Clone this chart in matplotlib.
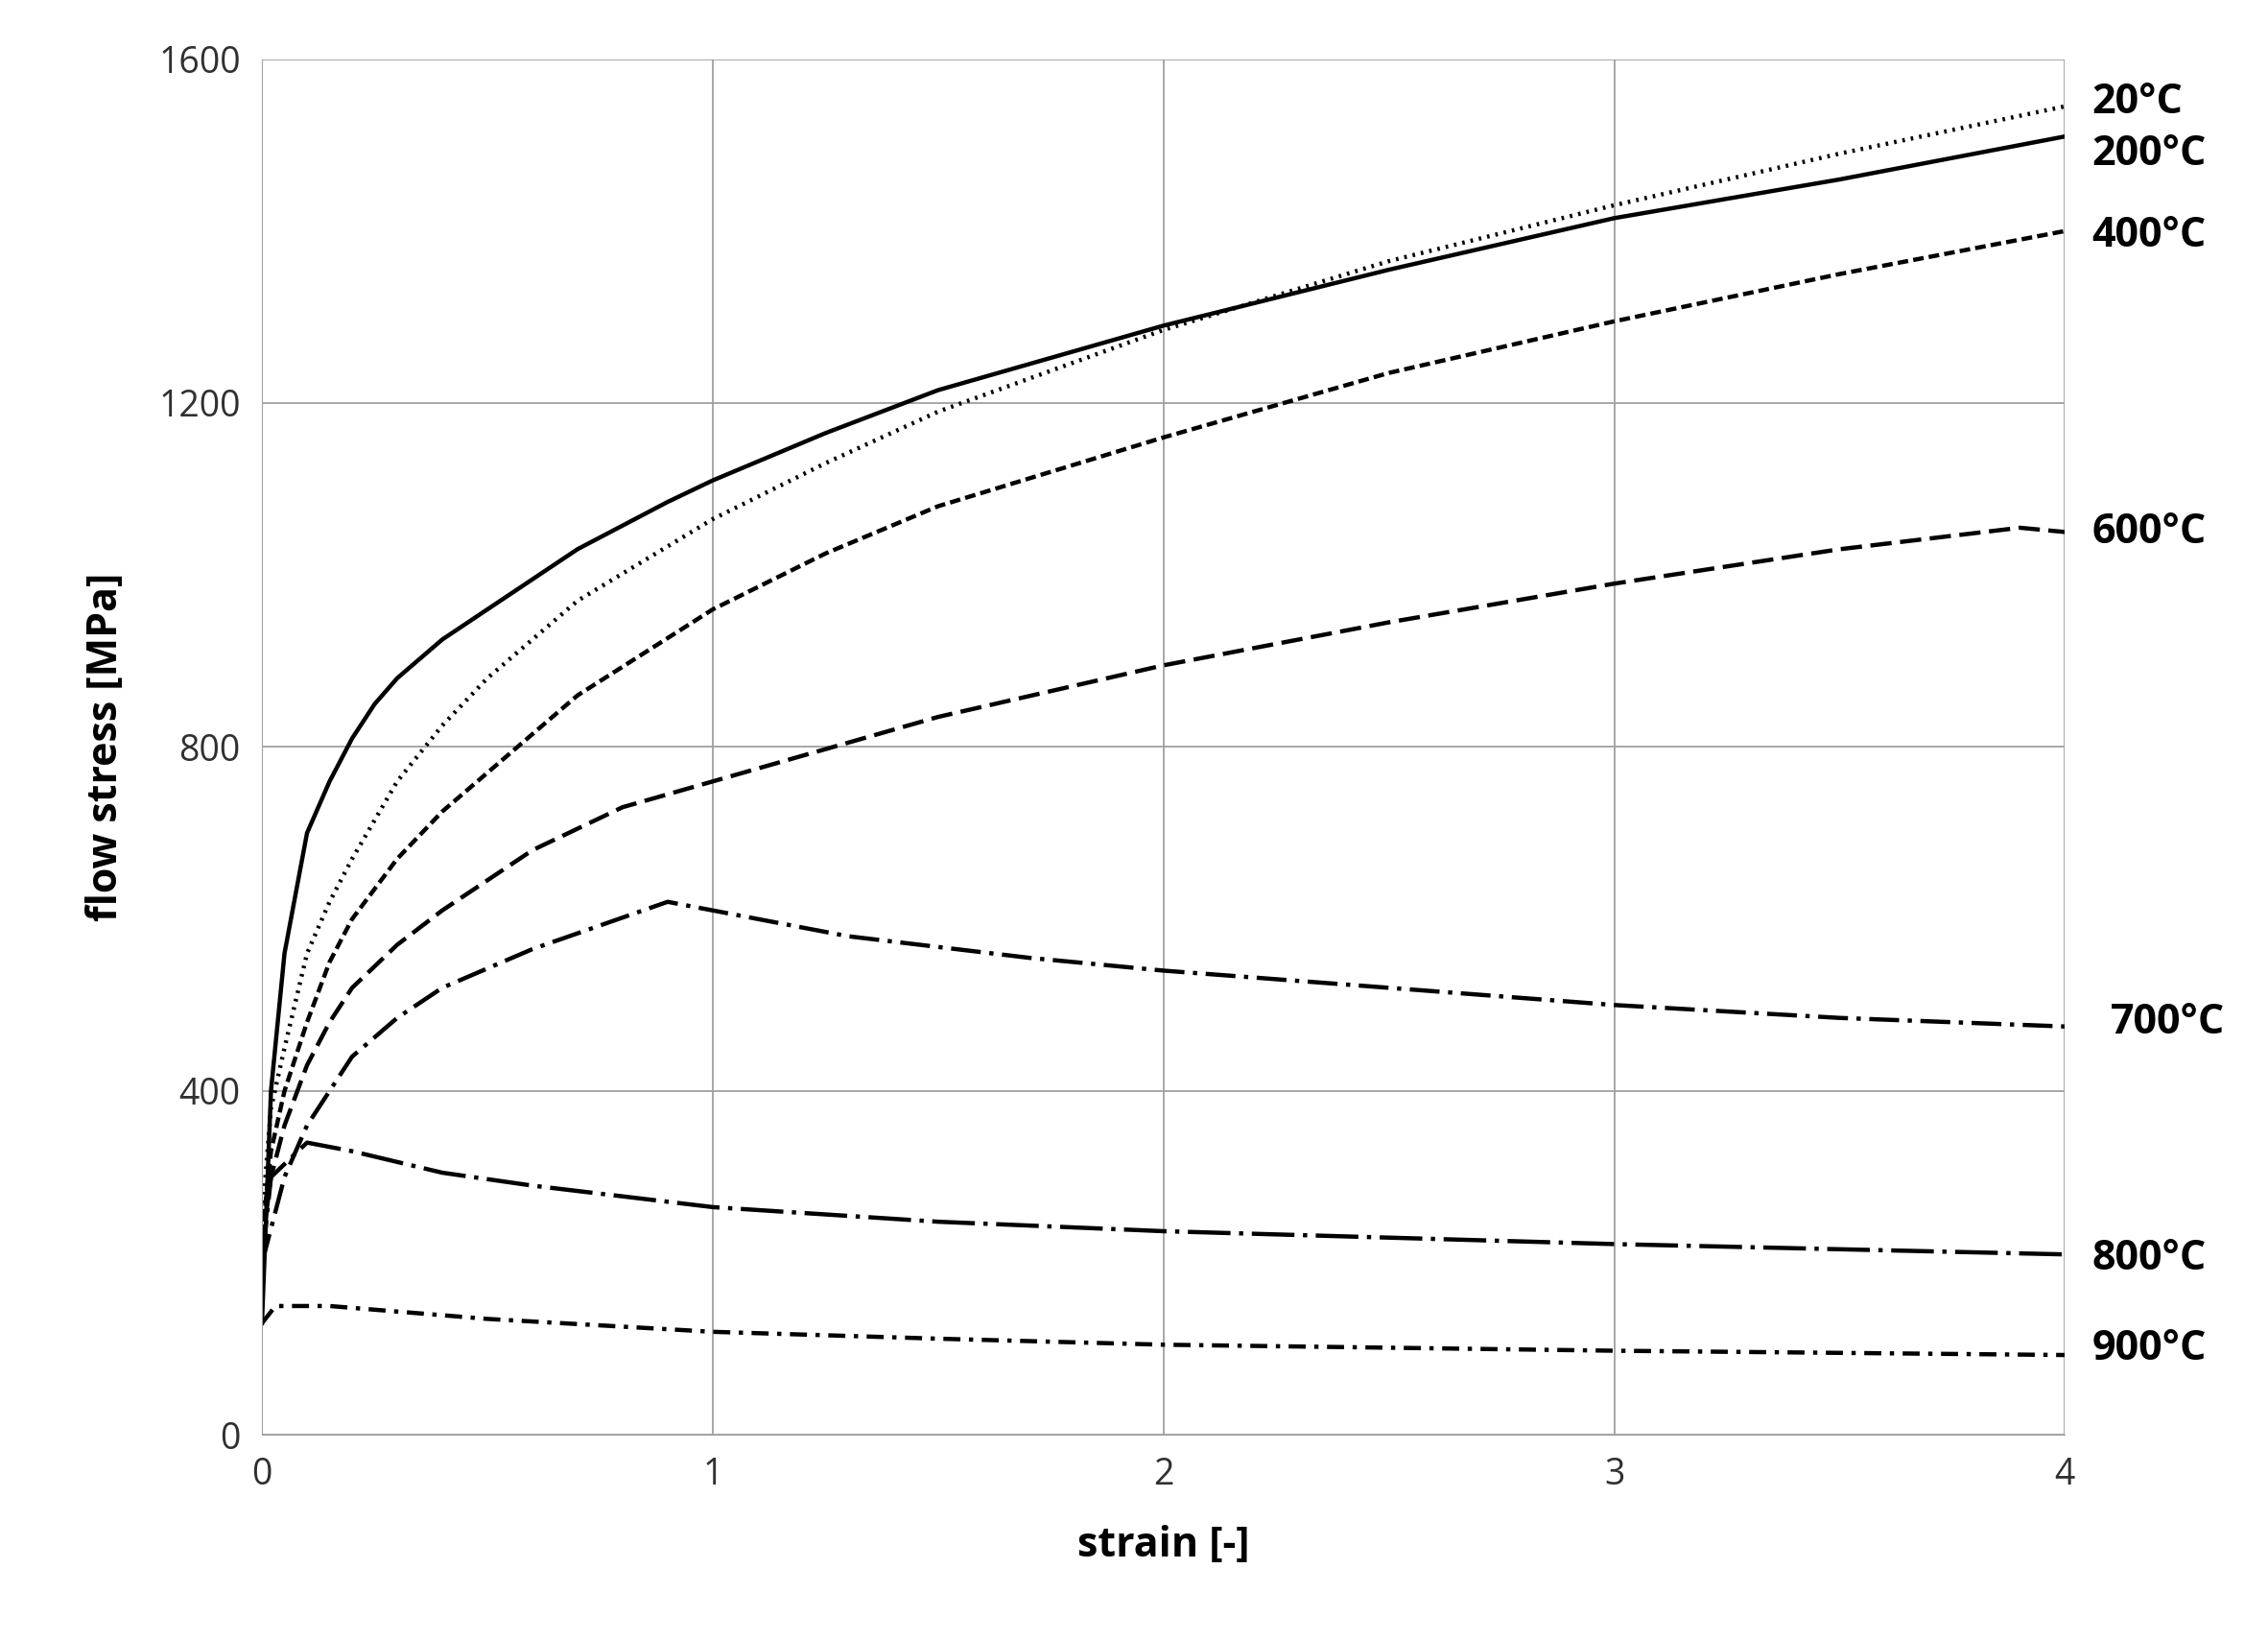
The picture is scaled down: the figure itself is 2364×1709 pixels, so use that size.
import matplotlib

matplotlib.use("Agg")

import matplotlib.pyplot as plt

plt.rcParams["font.family"] = ["Open Sans", "DejaVu Sans"]

temps = ["20°C", "200°C", "400°C", "600°C", "700°C", "800°C", "900°C"]

strain_20 = [0, 0.02, 0.05, 0.1, 0.15, 0.2, 0.3, 0.4, 0.5, 0.7, 1.0, 1.25, 1.5, 2.0, 2.5, 3.0, 3.5, 4.0]
stress_20 = [250, 380, 450, 560, 620, 670, 760, 825, 880, 970, 1065, 1130, 1190, 1285, 1365, 1430, 1490, 1545]

strain_200 = [0, 0.02, 0.05, 0.1, 0.15, 0.2, 0.25, 0.3, 0.4, 0.5, 0.7, 0.9, 1.0, 1.25, 1.5, 2.0, 2.5, 3.0, 3.5, 4.0]
stress_200 = [130, 400, 560, 700, 760, 810, 850, 880, 925, 960, 1030, 1085, 1110, 1165, 1215, 1290, 1355, 1415, 1460, 1510]

strain_400 = [0, 0.02, 0.05, 0.1, 0.15, 0.2, 0.3, 0.4, 0.5, 0.7, 1.0, 1.25, 1.5, 2.0, 2.5, 3.0, 3.5, 4.0]
stress_400 = [230, 330, 400, 480, 550, 600, 670, 725, 770, 860, 960, 1025, 1080, 1160, 1235, 1295, 1350, 1400]

strain_600 = [0, 0.02, 0.05, 0.1, 0.15, 0.2, 0.3, 0.4, 0.6, 0.8, 1.0, 1.5, 2.0, 2.5, 3.0, 3.5, 3.9, 4.0]
stress_600 = [220, 300, 360, 430, 480, 520, 570, 610, 680, 730, 760, 835, 895, 945, 990, 1030, 1055, 1050]

strain_700 = [0, 0.05, 0.1, 0.15, 0.2, 0.3, 0.4, 0.6, 0.9, 1.0, 1.3, 1.7, 2.0, 2.5, 3.0, 3.5, 4.0]
stress_700 = [200, 300, 360, 400, 440, 485, 520, 565, 620, 610, 580, 555, 540, 520, 500, 485, 475]

strain_800 = [0, 0.02, 0.1, 0.2, 0.4, 0.6, 1.0, 1.5, 2.0, 3.0, 4.0]
stress_800 = [200, 300, 340, 330, 305, 290, 265, 248, 237, 222, 210]

strain_900 = [0, 0.03, 0.15, 0.5, 1.0, 1.5, 2.0, 3.0, 4.0]
stress_900 = [130, 150, 150, 135, 120, 112, 105, 98, 93]

series = [
    (strain_20, stress_20, (0, (0.6, 1.4)), 1550),
    (strain_200, stress_200, "-", 1490),
    (strain_400, stress_400, (0, (2.5, 1.2)), 1395),
    (strain_600, stress_600, (0, (5, 2)), 1050),
    (strain_700, stress_700, (0, (7, 2, 1, 2)), 480),
    (strain_800, stress_800, (0, (10, 2, 1, 2)), 205),
    (strain_900, stress_900, (0, (4, 2, 1, 2)), 100),
]

fig = plt.figure(figsize=(23.64, 17.09), dpi=100)
ax = fig.add_axes([0.1155, 0.125, 0.795, 0.839])
for (x, y, ls, ypos), label in zip(series, temps):
    ax.plot(x, y, color="black", linestyle=ls, linewidth=3.2)
    xpos = 4.1 if label == "700°C" else 4.06
    ax.text(xpos, ypos, label, fontsize=31, fontweight="bold", va="center", ha="left")

ax.set_xlim(0, 4)
ax.set_ylim(0, 1600)
ax.set_xticks([0, 1, 2, 3, 4])
ax.set_yticks([0, 400, 800, 1200, 1600])
ax.grid(True, color="#a0a0a0", linewidth=1.3)
for side in ["top", "right"]:
    ax.spines[side].set_visible(False)
ax.spines["left"].set_color("#a0a0a0")
ax.spines["bottom"].set_color("#a0a0a0")
ax.tick_params(length=0, labelsize=27, colors="#303030", pad=16)
ax.set_xlabel("strain [-]", fontsize=31, fontweight="bold", labelpad=24)
ax.set_ylabel("flow stress [MPa]", fontsize=31, fontweight="bold", labelpad=24)

fig.savefig("out.png", dpi=100)
